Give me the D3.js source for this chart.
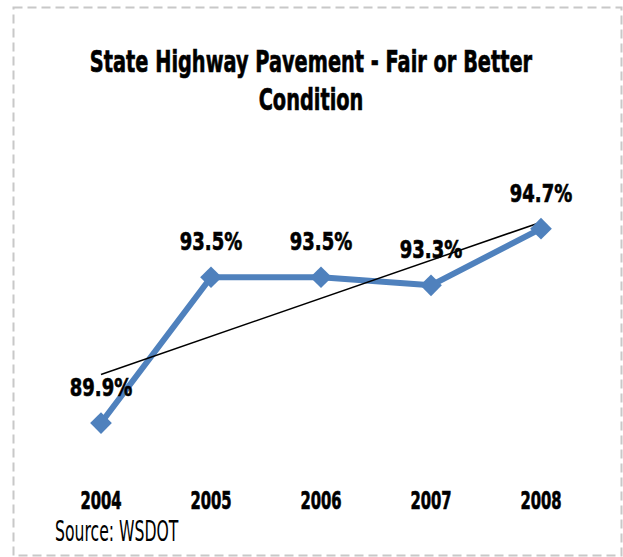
<!DOCTYPE html>
<html>
<head>
<meta charset="utf-8">
<script src="https://cdn.jsdelivr.net/npm/d3@7"></script>
<style>
  body { margin: 0; background: #fff; }
  text { font-family: "DejaVu Sans", sans-serif; }
  .heavy { stroke: #000; stroke-width: 0.7px; }
</style>
</head>
<body>
<svg></svg>
<script>
var years = ["2004", "2005", "2006", "2007", "2008"]
var values = [89.9, 93.5, 93.5, 93.3, 94.7]
var titleLines = ["State Highway Pavement - Fair or Better", "Condition"]
var source = "Source: WSDOT"

var screen = {width: 623, height: 557}

var svg = d3.select("svg")
    .attr("width", screen.width)
    .attr("height", screen.height)

// squeeze text sideways, the original font is a condensed one
var squeeze = function(x, y, sx){
    return "translate(" + x + "," + y + ") scale(" + sx + ",1)"
}

// dashed frame
svg.append("rect")
   .attr("x", 13.5)
   .attr("y", 7.5)
   .attr("width", 608)
   .attr("height", 548)
   .attr("fill", "none")
   .attr("stroke", "#c8c8c8")
   .attr("stroke-width", 2)
   .attr("stroke-dasharray", "9,5")

var xScale = d3.scaleBand()
    .domain(years)
    .range([46, 596])

var yScale = d3.scaleLinear()
    .domain([88, 96])
    .range([500, 176])

var cx = function(d, i){ return xScale(years[i]) + xScale.bandwidth() / 2 }

// title
svg.append("g")
   .selectAll("text")
   .data(titleLines)
   .enter()
   .append("text")
   .classed("heavy", true)
   .attr("transform", function(d, i){ return squeeze(311, 72 + i * 38, 0.645) })
   .attr("text-anchor", "middle")
   .attr("font-size", 30)
   .attr("font-weight", "bold")
   .text(function(d){ return d })

// x axis (labels only)
var xAxis = d3.axisBottom(xScale).tickSize(0).tickPadding(0)
var gx = svg.append("g")
   .attr("transform", "translate(0,509)")
   .call(xAxis)
gx.select(".domain").remove()
gx.attr("font-family", null).attr("font-size", null)
gx.selectAll("text")
  .classed("heavy", true)
  .attr("y", 0)
  .attr("dy", null)
  .attr("transform", "scale(0.61,1)")
  .attr("font-size", 24.3)
  .attr("font-weight", "bold")
  .attr("fill", "#000")

// series line
var line = d3.line()
    .x(cx)
    .y(function(d){ return yScale(d) })

svg.append("path")
   .datum(values)
   .attr("d", line)
   .attr("fill", "none")
   .attr("stroke", "#4f81bd")
   .attr("stroke-width", 6)
   .attr("stroke-linejoin", "round")

// linear trendline
var n = values.length
var mx = d3.mean(values, function(d, i){ return i })
var my = d3.mean(values)
var slope = d3.sum(values, function(d, i){ return (i - mx) * (d - my) }) /
            d3.sum(values, function(d, i){ return (i - mx) * (i - mx) })
var trend = [my - slope * mx, my + slope * (n - 1 - mx)]
svg.append("line")
   .attr("x1", cx(null, 0))
   .attr("y1", yScale(trend[0]))
   .attr("x2", cx(null, n - 1))
   .attr("y2", yScale(trend[1]))
   .attr("stroke", "#000")
   .attr("stroke-width", 1.5)

// diamond markers
svg.append("g")
   .selectAll("path")
   .data(values)
   .enter()
   .append("path")
   .attr("d", d3.symbol().type(d3.symbolDiamond2).size(300))
   .attr("transform", function(d, i){ return "translate(" + cx(d, i) + "," + yScale(d) + ")" })
   .attr("fill", "#4f81bd")

// data labels
svg.append("g")
   .selectAll("text")
   .data(values)
   .enter()
   .append("text")
   .classed("heavy", true)
   .attr("transform", function(d, i){ return squeeze(cx(d, i), yScale(d) - 27, 0.72) })
   .attr("text-anchor", "middle")
   .attr("font-size", 25)
   .attr("font-weight", "bold")
   .text(function(d){ return d.toFixed(1) + "%" })

// source note
svg.append("text")
   .attr("transform", squeeze(55, 541, 0.54))
   .attr("font-size", 29)
   .text(source)
</script>
</body>
</html>
